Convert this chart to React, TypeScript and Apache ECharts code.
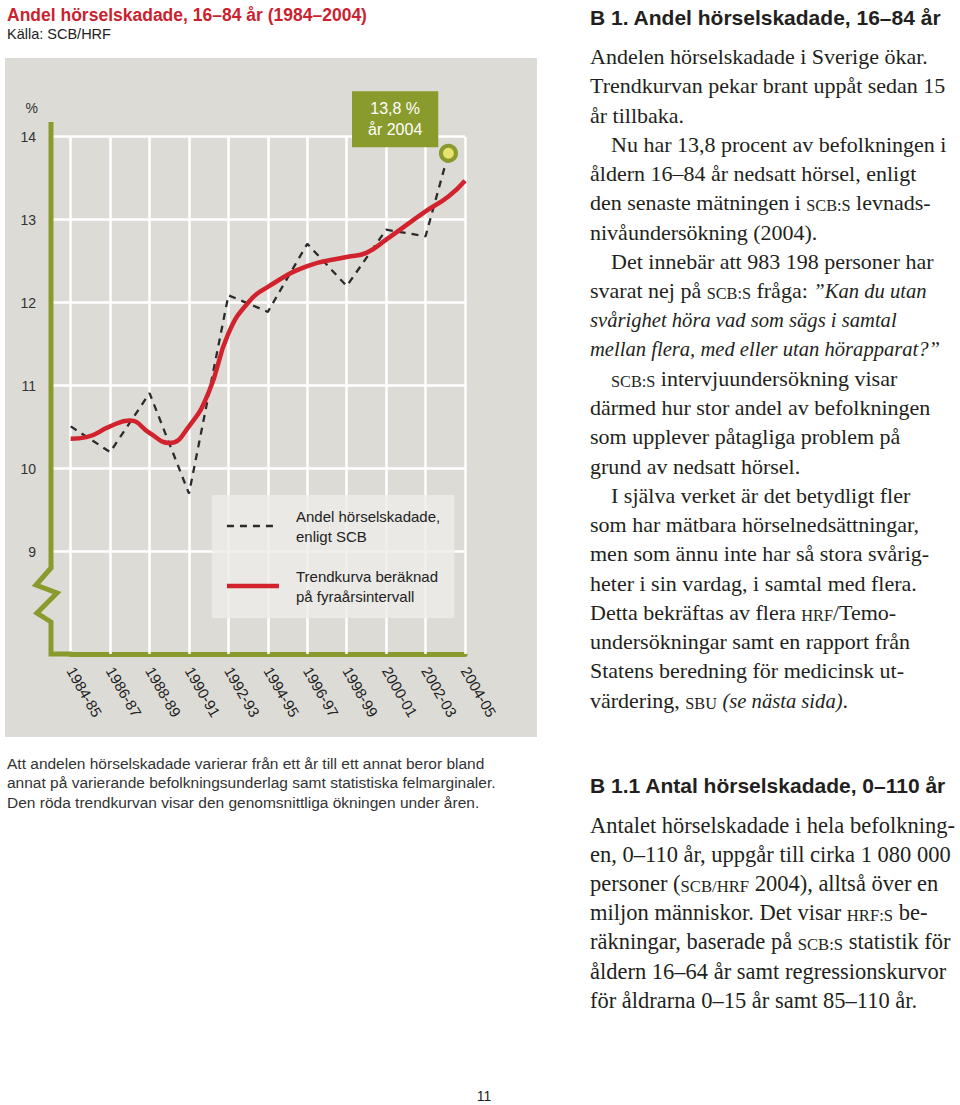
import React, { useEffect, useRef } from 'react';
import * as echarts from 'echarts';

// ---------- data ----------
const chartTitle = 'Andel hörselskadade, 16–84 år (1984–2004)';
const chartSource = 'Källa: SCB/HRF';
const categories = ['1984-85', '1986-87', '1988-89', '1990-91', '1992-93', '1994-95', '1996-97', '1998-99', '2000-01', '2002-03', '2004-05'];
const yTickMin = 9;
const yTickMax = 14;

const scbName = 'Andel hörselskadade,\nenligt SCB';
const scbPos = [0, 1, 2, 3, 4, 5, 6, 7, 8, 9, 9.58];
const scbValues = [10.51, 10.2, 10.91, 9.7, 12.09, 11.89, 12.71, 12.2, 12.88, 12.8, 13.8];
const scbLastYear = '2004';

const trendName = 'Trendkurva beräknad\npå fyraårsintervall';
const trendPos = [0, 0.4, 1, 1.5, 2, 2.5, 3, 3.5, 4, 4.5, 5, 6, 7, 7.5, 8, 9, 9.58, 10];
const trendValues = [10.36, 10.38, 10.51, 10.58, 10.43, 10.31, 10.51, 10.92, 11.63, 12.0, 12.19, 12.44, 12.55, 12.6, 12.76, 13.1, 13.28, 13.47];

const captionLines = [
  'Att andelen hörselskadade varierar från ett år till ett annat beror bland',
  'annat på varierande befolkningsunderlag samt statistiska felmarginaler.',
  'Den röda trendkurvan visar den genomsnittliga ökningen under åren.',
];

const heading1 = 'B 1. Andel hörselskadade, 16–84 år';
// [text, indent]; ^..^ = small caps, *..* = italic
const block1: [string, number][] = [
  ['Andelen hörselskadade i Sverige ökar.', 0],
  ['Trendkurvan pekar brant uppåt sedan 15', 0],
  ['år tillbaka.', 0],
  ['Nu har 13,8 procent av befolkningen i', 1],
  ['åldern 16–84 år nedsatt hörsel, enligt', 0],
  ['den senaste mätningen i ^scb:s^ levnads-', 0],
  ['nivåundersökning (2004).', 0],
  ['Det innebär att 983 198 personer har', 1],
  ['svarat nej på ^scb:s^ fråga: *”Kan du utan*', 0],
  ['*svårighet höra vad som sägs i samtal*', 0],
  ['*mellan flera, med eller utan hörapparat?”*', 0],
  ['^scb:s^ intervjuundersökning visar', 1],
  ['därmed hur stor andel av befolkningen', 0],
  ['som upplever påtagliga problem på', 0],
  ['grund av nedsatt hörsel.', 0],
  ['I själva verket är det betydligt fler', 1],
  ['som har mätbara hörselnedsättningar,', 0],
  ['men som ännu inte har så stora svårig-', 0],
  ['heter i sin vardag, i samtal med flera.', 0],
  ['Detta bekräftas av flera ^hrf^/Temo-', 0],
  ['undersökningar samt en rapport från', 0],
  ['Statens beredning för medicinsk ut-', 0],
  ['värdering, ^sbu^ *(se nästa sida)*.', 0],
];

const heading2 = 'B 1.1 Antal hörselskadade, 0–110 år';
const block2: string[] = [
  'Antalet hörselskadade i hela befolkning-',
  'en, 0–110 år, uppgår till cirka 1 080 000',
  'personer (^scb/hrf^ 2004), alltså över en',
  'miljon människor. Det visar ^hrf:s^ be-',
  'räkningar, baserade på ^scb:s^ statistik för',
  'åldern 16–64 år samt regressionskurvor',
  'för åldrarna 0–15 år samt 85–110 år.',
];
const pageNumber = '11';

// ---------- styles ----------
const SANS = '"Liberation Sans", Arial, Helvetica, sans-serif';
const SERIF = '"Liberation Serif", "Times New Roman", serif';
const GREEN = '#8a9b2d';
const RED = '#d1222e';
const PANEL = '#dddbd6';
const INK = '#231f20';

function toRich(line: string, suffix: string) {
  let out = '';
  let mode = 'n';
  let buf = '';
  const flush = () => {
    if (buf) {
      out += `{${mode}${suffix}|${buf}}`;
      buf = '';
    }
  };
  for (const ch of line) {
    if (ch === '^') {
      flush();
      mode = mode === 'sc' ? 'n' : 'sc';
    } else if (ch === '*') {
      flush();
      mode = mode === 'it' ? 'n' : 'it';
    } else {
      buf += mode === 'sc' ? ch.toUpperCase() : ch;
    }
  }
  flush();
  return out;
}

function richStyles(size: number, italicSize: number, suffix: string) {
  const r: any = {};
  r['n' + suffix] = { fontFamily: SERIF, fontSize: size, fill: INK, verticalAlign: 'bottom' };
  r['sc' + suffix] = { fontFamily: SERIF, fontSize: size * 0.74, fill: INK, verticalAlign: 'bottom' };
  r['it' + suffix] = { fontFamily: SERIF, fontSize: italicSize, fontStyle: 'italic', fill: INK, verticalAlign: 'bottom' };
  return r;
}

export default function App() {
  const ref = useRef<HTMLDivElement>(null);

  useEffect(() => {
    if (!ref.current) return;
    const chart = echarts.init(ref.current, undefined, { renderer: 'svg' });

    const graphics: any[] = [];
    graphics.push({
      type: 'rect',
      z: -10,
      silent: true,
      shape: { x: 5, y: 58, width: 532, height: 679 },
      style: { fill: PANEL },
    });
    // broken y axis + short piece of x axis
    graphics.push({
      type: 'polyline',
      z: 10,
      silent: true,
      shape: {
        points: [
          [51, 122],
          [51, 568],
          [36, 585],
          [57, 593],
          [37, 613],
          [51, 622],
          [51, 654],
          [72, 654],
        ],
      },
      style: { stroke: GREEN, lineWidth: 5, fill: null, lineJoin: 'miter' },
    });
    captionLines.forEach((t, i) => {
      graphics.push({
        type: 'text',
        x: 7,
        y: 763 + i * 19.5,
        silent: true,
        style: { text: t, fontFamily: SANS, fontSize: 15.5, fill: '#333', align: 'left', verticalAlign: 'middle' },
      });
    });
    graphics.push({
      type: 'text',
      x: 590,
      y: 17,
      silent: true,
      style: { text: heading1, fontFamily: SANS, fontSize: 21, fontWeight: 'bold', fill: INK, align: 'left', verticalAlign: 'middle' },
    });
    const r1 = richStyles(22, 20.6, 'a');
    block1.forEach(([t, ind], i) => {
      graphics.push({
        type: 'text',
        x: ind ? 611 : 590,
        y: 56.7 + i * 29.25,
        silent: true,
        style: { text: toRich(t, 'a'), rich: r1, align: 'left', verticalAlign: 'middle' },
      });
    });
    graphics.push({
      type: 'text',
      x: 590,
      y: 785,
      silent: true,
      style: { text: heading2, fontFamily: SANS, fontSize: 21, fontWeight: 'bold', fill: INK, align: 'left', verticalAlign: 'middle' },
    });
    const r2 = richStyles(22.5, 22.5, 'b');
    block2.forEach((t, i) => {
      graphics.push({
        type: 'text',
        x: 590,
        y: 825 + i * 29.2,
        silent: true,
        style: { text: toRich(t, 'b'), rich: r2, align: 'left', verticalAlign: 'middle' },
      });
    });
    graphics.push({
      type: 'text',
      x: 484,
      y: 1096,
      silent: true,
      style: { text: pageNumber, fontFamily: SANS, fontSize: 14, fill: INK, align: 'center', verticalAlign: 'middle' },
    });

    const scbData = scbPos.map((x, i) => {
      const item: any = { value: [x, scbValues[i]] };
      if (i === scbPos.length - 1) {
        item.symbol = 'circle';
        item.symbolSize = 15;
        item.itemStyle = { color: '#e8e26e', borderColor: GREEN, borderWidth: 4 };
        item.label = {
          show: true,
          position: [-43.8, -52.5],
          align: 'center',
          verticalAlign: 'top',
          formatter: (p: any) => `${String(p.value[1]).replace('.', ',')} %\når ${scbLastYear}`,
          backgroundColor: GREEN,
          color: '#fff',
          fontFamily: SANS,
          fontSize: 16,
          lineHeight: 21,
          padding: [7, 16, 7, 16],
        };
      }
      return item;
    });

    const option: any = {
      animation: false,
      backgroundColor: '#fff',
      title: {
        text: chartTitle,
        subtext: chartSource,
        left: 7,
        top: 5,
        padding: 0,
        itemGap: 0,
        textStyle: { color: '#cc1f2f', fontFamily: SANS, fontSize: 17.5, fontWeight: 'bold', lineHeight: 20 },
        subtextStyle: { color: '#222', fontFamily: SANS, fontSize: 14.5, lineHeight: 18 },
      },
      grid: { left: 70.7, right: 495, top: 136.7, bottom: 553.3, outerBoundsMode: 'none' },
      legend: {
        orient: 'vertical',
        left: 211.7,
        top: 495,
        padding: [11, 14, 12, 13],
        itemGap: 20,
        itemWidth: 52,
        itemHeight: 14,
        backgroundColor: 'rgba(237,236,233,0.8)',
        selectedMode: false,
        itemStyle: { opacity: 0 },
        lineStyle: { width: 'inherit', type: 'inherit' },
        textStyle: { fontFamily: SANS, fontSize: 15, lineHeight: 20, color: '#222', padding: [0, 0, 0, 12] },
        data: [scbName, trendName],
      },
      xAxis: {
        type: 'value',
        min: 0,
        max: categories.length - 1,
        interval: 1,
        offset: 102.3,
        axisLine: { show: true, onZero: false, lineStyle: { color: GREEN, width: 5 } },
        axisTick: { show: true, inside: true, length: 102.3, lineStyle: { color: '#fff', width: 2.5 } },
        axisLabel: {
          rotate: -60,
          margin: 14,
          fontFamily: SANS,
          fontSize: 15,
          color: '#222',
          showMinLabel: true,
          showMaxLabel: true,
          formatter: (v: number) => categories[Math.round(v)] ?? '',
        },
        splitLine: { show: true, lineStyle: { color: '#fff', width: 2.5 } },
      },
      yAxis: {
        type: 'value',
        min: yTickMin,
        max: yTickMax,
        interval: 1,
        offset: 19.7,
        name: '%',
        nameLocation: 'end',
        nameGap: 22,
        nameTextStyle: { fontFamily: SANS, fontSize: 14, color: '#333', align: 'right', padding: [0, 13, 0, 0] },
        axisLine: { show: false, onZero: false },
        axisTick: { show: true, inside: true, length: 19.7, lineStyle: { color: '#fff', width: 2.5 } },
        axisLabel: { margin: 15, fontFamily: SANS, fontSize: 14, color: '#333' },
        splitLine: { show: true, lineStyle: { color: '#fff', width: 2.5 } },
      },
      series: [
        {
          name: scbName,
          type: 'line',
          data: scbData,
          symbol: 'none',
          showSymbol: true,
          z: 3,
          lineStyle: { color: '#2b2b2b', width: 2.3, type: [7, 6] },
          itemStyle: { color: '#2b2b2b' },
          emphasis: { disabled: true },
          silent: true,
        },
        {
          name: trendName,
          type: 'line',
          data: trendPos.map((x, i) => [x, trendValues[i]]),
          smooth: 0.5,
          symbol: 'none',
          z: 4,
          lineStyle: { color: RED, width: 4.5 },
          itemStyle: { color: RED },
          emphasis: { disabled: true },
          silent: true,
        },
      ],
      graphic: graphics,
    };

    chart.setOption(option);
    return () => chart.dispose();
  }, []);

  return <div ref={ref} style={{ position: 'absolute', left: 0, top: 0, width: 960, height: 1105 }} />;
}
